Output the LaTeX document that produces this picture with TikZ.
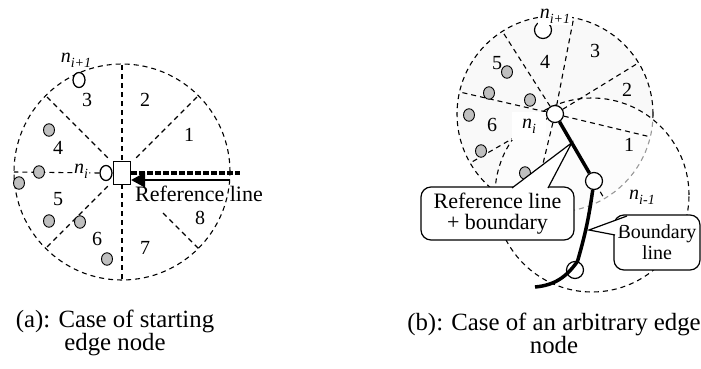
\documentclass[tikz,border=0pt]{standalone}
\usepackage{fontspec}
\setmainfont{Liberation Serif}
\usetikzlibrary{arrows.meta,calc,shapes.geometric}
\newcommand{\nlab}[1]{\textit{n}\raisebox{-0.25em}{\fontsize{14}{14}\selectfont\textit{#1}}}

\begin{document}
\begin{tikzpicture}[x=1pt,y=1pt,
    dsh/.style={dash pattern=on 5pt off 4pt,line width=1.1pt},
    gnode/.style={ellipse,draw,fill=gray!50,line width=0.9pt,minimum width=11pt,minimum height=12.5pt,inner sep=0pt},
    onode/.style={ellipse,draw,fill=white,line width=1.3pt,minimum width=12pt,minimum height=15pt,inner sep=0pt},
    wnode/.style={circle,draw,fill=white,line width=1.2pt,minimum size=17pt,inner sep=0pt},
    num/.style={font=\fontsize{20}{20}\selectfont,inner sep=1pt},
    lab/.style={font=\fontsize{20}{20}\selectfont,inner sep=1pt},
    callbox/.style={draw,fill=white,rounded corners=10pt,line width=1.2pt,align=center},
    capt/.style={align=center,font=\fontsize{24.8}{23}\selectfont}]
  \useasboundingbox (0,0) rectangle (701,368);

  \coordinate (ca) at (122,196);
  \draw[dsh] (ca) circle[radius=108pt];
  \node[draw,fill=white,line width=1.3pt,minimum width=17pt,minimum height=23pt,inner sep=0pt] (sq) at (122,195) {};
  \node[onode] (ani) at (106,195) {};
  \node[onode] (anip) at (79,288) {};
  \foreach \a/\r in {45/20,90/12,135/20,225/20,270/12,315/58}
    \draw[dsh] ($(ca)+(\a:\r)$) -- ($(ca)+(\a:108)$);
  \draw[dsh] (ani.west) -- ($(ca)+(180:108)$);
  \foreach \p [count=\k] in {(49,238),(39,196),(19,185),(49,147),(80,146),(107,109)}
    \node[gnode] (ag\k) at \p {};
  \node[lab,fill=white] (lani) at (81,197) {\nlab{i}};
  \node[lab] (lanip) at (76,308) {\nlab{i+1}};
  \foreach \t/\x/\y in {1/189/233,2/145/268,3/87/268,4/58/220,5/58/169,6/97/129,7/145/120,8/200/150}
    \node[num] (as\t) at (\x,\y) {\t};
  \coordinate (arefend) at (240,195);
  \draw[line width=4pt,dash pattern=on 6pt off 2pt] (sq.east) -- (arefend);
  \coordinate (atail) at (230,188);
  \draw[line width=1.2pt,-{Triangle[length=14pt,width=15pt]}] (atail) -- (atail -| sq.east);
  \node[font=\fontsize{22}{22}\selectfont,inner sep=1pt] (areflab) at (199,174) {Reference line};

  \coordinate (bc) at (555,254);
  \coordinate (bc2) at (592,173);
  \fill[gray!5] (bc) circle[radius=98pt];
  \draw[dsh] (bc) circle[radius=98pt];
  \fill[white,fill opacity=0.6] (bc2) circle[radius=97pt];
  \draw[dsh] (bc2) circle[radius=97pt];
  \foreach \a in {-13.5,31.5,79,122.5,167,210,256.4,-59.8}
    \draw[dsh] (bc) -- ++(\a:98);
  \foreach \p [count=\k] in {(507,296),(489,275),(530,268),(469,253),(481,217),(525,195)}
    \node[gnode] (bg\k) at \p {};
  \node[lab,fill=white,minimum width=34pt,minimum height=28pt,inner sep=0pt] (lbni) at (529,242) {\nlab{i}};
  \node[wnode] (bni) at (bc) {};
  \node[wnode] (bnim) at (594,187) {};
  \node[wnode] (bnb) at (575,98) {};
  \node[wnode] (bnip) at (543,338) {};
  \node[lab,fill=white,inner sep=2pt] (lbnip) at (555,352) {\nlab{i+1}};
  \node[lab] (lbnim) at (642,171) {\nlab{i-1}};
  \foreach \t/\x/\y in {1/629/223,2/627/278,3/595/317,4/545/306,5/497/305,6/492/243}
    \node[num] (bs\t) at (\x,\y) {\t};

  \node[callbox,minimum width=153pt,minimum height=53pt,font=\fontsize{22}{21}\selectfont] (refbox) at (497.5,154.5) {Reference line\\+ boundary};
  \coordinate (reftip) at ($(bni)!0.43!(bnim)$);
  \coordinate (rb1) at (512,180);
  \coordinate (rb2) at (548,180);
  \fill[white] (rb1) -- (reftip) -- (rb2) -- cycle;
  \draw[line width=1.2pt] (rb1) -- (reftip) -- (rb2);

  \node[callbox,minimum width=86pt,minimum height=55pt,font=\fontsize{20}{21}\selectfont] (bndbox) at (657,125.5) {Boundary\\line};
  \coordinate (bndtip) at (589,138);
  \coordinate (bb1) at (627,152);
  \coordinate (bb2) at (615,133);
  \fill[white] (bb1) -- (bndtip) -- (bb2) -- cycle;
  \draw[line width=1.2pt] (bb1) -- (bndtip) -- (bb2);

  \coordinate (bend) at (535,81);
  \draw[line width=3.5pt] (bni) -- (bnim) to[bend left=4] (bnb) to[out=-125,in=5] (bend);

  \node[capt] (capa) at (115,35) {(a): Case of starting\\edge node};
  \node[capt] (capb) at (554,35) {(b): Case of an arbitrary edge\\node};
\end{tikzpicture}
\end{document}
